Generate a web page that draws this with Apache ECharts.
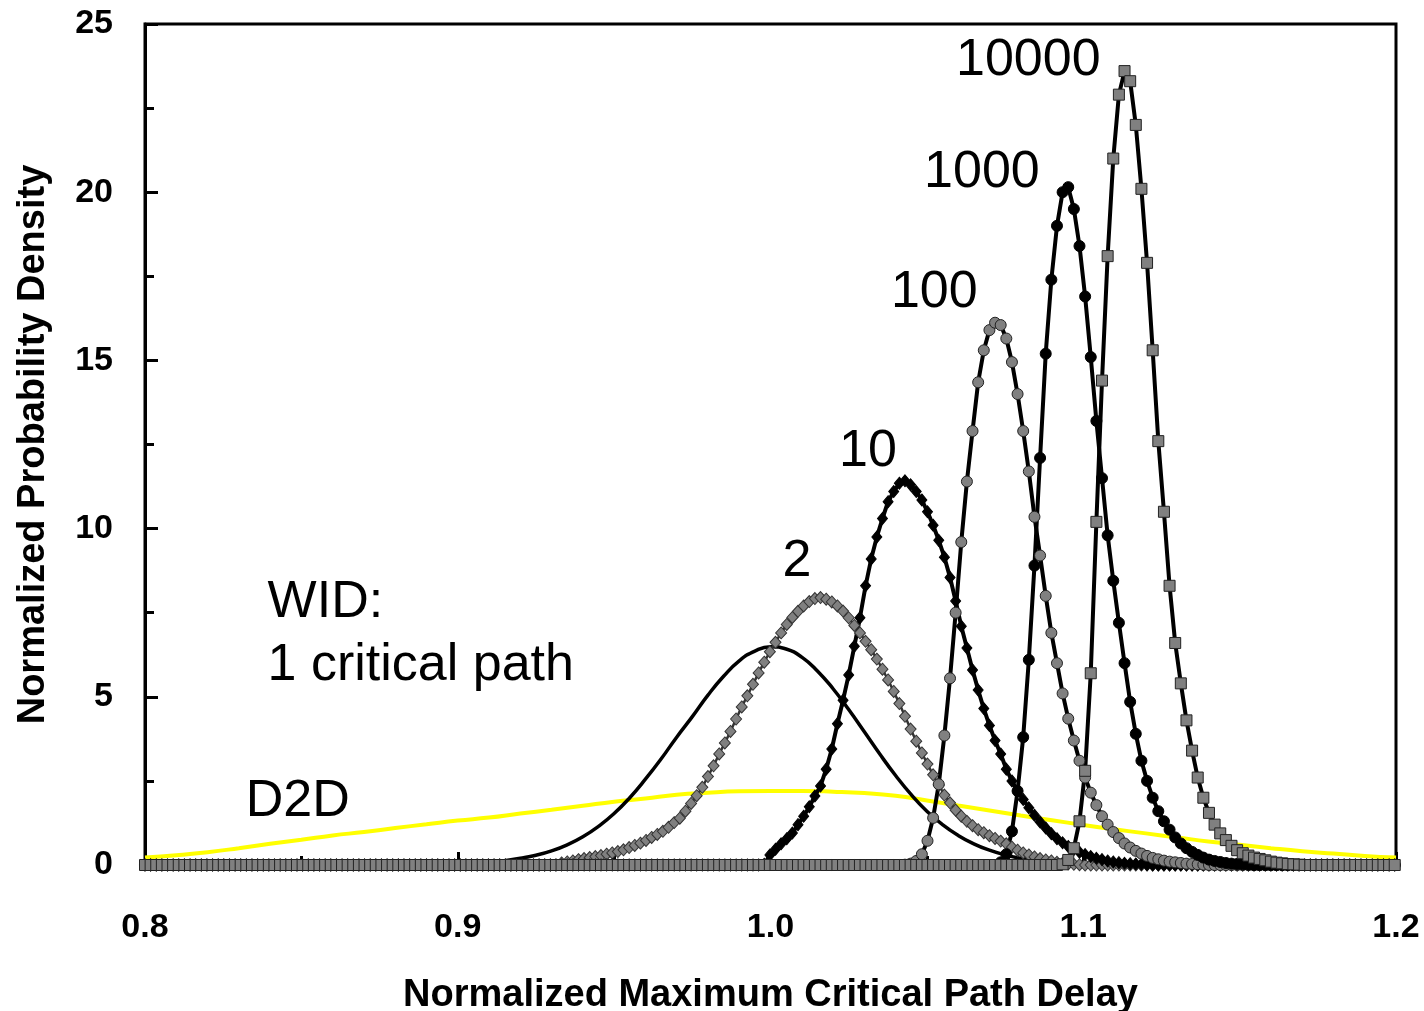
<!DOCTYPE html>
<html>
<head>
<meta charset="utf-8">
<title>Normalized Maximum Critical Path Delay</title>
<script src="https://cdn.jsdelivr.net/npm/echarts@6/dist/echarts.min.js"></script>
<style>
  html, body { margin: 0; padding: 0; background: #ffffff; }
  #chart { width: 1424px; height: 1011px; }
</style>
</head>
<body>
<div id="chart"></div>
<script>
// Tick values of both axes
const xTicks = [0.8, 0.9, 1.0, 1.1, 1.2];
const yTicks = [0, 5, 10, 15, 20, 25];

// Shared sampling grid of the marker curves: x = GRID_START + i * GRID_STEP, i = 0..222
const GRID_START = 0.8;
const GRID_STEP = 0.0018;

// Probability density of the maximum over N critical paths (one row = 10 samples)
const pdf2 = [
  0,0,0,0,0,0,0,0,0,0,
  0,0,0,0,0,0,0,0,0,0,
  0,0,0,0,0,0,0,0,0,0,
  0,0,0,0,0,0,0,0,0,0,
  0,0,0,0,0,0,0,0,0,0,
  0,0,0,0,0,0,0,0,0,0,
  0,0,0,0,0,0,0,0,0,0,
  0,0,0,0,0.06,0.09,0.12,0.16,0.19,0.22,
  0.25,0.28,0.32,0.36,0.40,0.45,0.52,0.58,0.65,0.73,
  0.82,0.91,1.00,1.12,1.26,1.39,1.60,1.83,2.06,2.31,
  2.63,2.95,3.30,3.63,3.97,4.34,4.70,5.03,5.37,5.71,
  6.03,6.34,6.62,6.90,7.15,7.36,7.54,7.70,7.83,7.92,
  7.95,7.90,7.82,7.70,7.55,7.35,7.12,6.90,6.65,6.40,
  6.12,5.82,5.50,5.16,4.80,4.42,4.04,3.68,3.33,3.00,
  2.68,2.38,2.08,1.85,1.63,1.45,1.30,1.17,1.05,0.96,
  0.87,0.79,0.71,0.63,0.53,0.44,0.36,0.30,0.24,0.19,
  0.15,0.12,0.08,0.05,0.03,0.02,0.01,0,0,0,
  0,0,0,0,0,0,0,0,0,0,
  0,0,0,0,0,0,0,0,0,0,
  0,0,0,0,0,0,0,0,0,0,
  0,0,0,0,0,0,0,0,0,0,
  0,0,0,0,0,0,0,0,0,0,
  0,0,0
];

const pdf10 = [
  0,0,0,0,0,0,0,0,0,0,
  0,0,0,0,0,0,0,0,0,0,
  0,0,0,0,0,0,0,0,0,0,
  0,0,0,0,0,0,0,0,0,0,
  0,0,0,0,0,0,0,0,0,0,
  0,0,0,0,0,0,0,0,0,0,
  0,0,0,0,0,0,0,0,0,0,
  0,0,0,0,0,0,0,0,0,0,
  0,0,0,0,0,0,0,0,0,0,
  0,0,0,0,0,0,0,0,0,0,
  0,0,0,0,0,0,0,0,0,0,
  0.02,0.30,0.47,0.63,0.78,0.95,1.20,1.45,1.73,2.05,
  2.35,2.85,3.45,4.20,4.90,5.65,6.50,7.35,8.30,9.10,
  9.75,10.30,10.80,11.10,11.35,11.42,11.30,11.10,10.85,10.50,
  10.10,9.65,9.15,8.55,7.85,7.10,6.45,5.80,5.20,4.65,
  4.15,3.70,3.30,2.85,2.50,2.20,1.95,1.70,1.48,1.28,
  1.10,0.93,0.78,0.66,0.55,0.46,0.38,0.31,0.25,0.20,
  0.16,0.12,0.09,0.07,0.05,0.04,0.03,0.02,0.01,0,
  0,0,0,0,0,0,0,0,0,0,
  0,0,0,0,0,0,0,0,0,0,
  0,0,0,0,0,0,0,0,0,0,
  0,0,0,0,0,0,0,0,0,0,
  0,0,0
];

const pdf100 = [
  0,0,0,0,0,0,0,0,0,0,
  0,0,0,0,0,0,0,0,0,0,
  0,0,0,0,0,0,0,0,0,0,
  0,0,0,0,0,0,0,0,0,0,
  0,0,0,0,0,0,0,0,0,0,
  0,0,0,0,0,0,0,0,0,0,
  0,0,0,0,0,0,0,0,0,0,
  0,0,0,0,0,0,0,0,0,0,
  0,0,0,0,0,0,0,0,0,0,
  0,0,0,0,0,0,0,0,0,0,
  0,0,0,0,0,0,0,0,0,0,
  0,0,0,0,0,0,0,0,0,0,
  0,0,0,0,0,0,0,0,0,0,
  0,0,0,0,0,0.01,0.04,0.12,0.32,0.72,
  1.40,2.40,3.85,5.55,7.50,9.60,11.40,12.90,14.35,15.30,
  15.90,16.12,16.05,15.65,14.95,14.00,12.90,11.70,10.35,9.20,
  8.00,6.90,6.00,5.10,4.35,3.70,3.10,2.60,2.15,1.78,
  1.45,1.20,0.98,0.80,0.64,0.52,0.42,0.34,0.27,0.21,
  0.17,0.13,0.10,0.08,0.06,0.04,0.03,0.02,0.01,0,
  0,0,0,0,0,0,0,0,0,0,
  0,0,0,0,0,0,0,0,0,0,
  0,0,0,0,0,0,0,0,0,0,
  0,0,0
];

const pdf1000 = [
  0,0,0,0,0,0,0,0,0,0,
  0,0,0,0,0,0,0,0,0,0,
  0,0,0,0,0,0,0,0,0,0,
  0,0,0,0,0,0,0,0,0,0,
  0,0,0,0,0,0,0,0,0,0,
  0,0,0,0,0,0,0,0,0,0,
  0,0,0,0,0,0,0,0,0,0,
  0,0,0,0,0,0,0,0,0,0,
  0,0,0,0,0,0,0,0,0,0,
  0,0,0,0,0,0,0,0,0,0,
  0,0,0,0,0,0,0,0,0,0,
  0,0,0,0,0,0,0,0,0,0,
  0,0,0,0,0,0,0,0,0,0,
  0,0,0,0,0,0,0,0,0,0,
  0,0,0,0,0,0,0,0,0,0,
  0,0,0.08,0.32,1.00,2.20,3.80,6.10,8.90,12.10,
  15.20,17.40,19.00,20.00,20.15,19.50,18.40,16.90,15.10,13.20,
  11.50,9.80,8.45,7.20,6.00,4.85,3.90,3.10,2.50,2.00,
  1.60,1.30,1.05,0.82,0.64,0.50,0.39,0.30,0.22,0.16,
  0.12,0.09,0.06,0.04,0.03,0.02,0.01,0,0,0,
  0,0,0,0,0,0,0,0,0,0,
  0,0,0,0,0,0,0,0,0,0,
  0,0,0
];

const pdf10000 = [
  0,0,0,0,0,0,0,0,0,0,
  0,0,0,0,0,0,0,0,0,0,
  0,0,0,0,0,0,0,0,0,0,
  0,0,0,0,0,0,0,0,0,0,
  0,0,0,0,0,0,0,0,0,0,
  0,0,0,0,0,0,0,0,0,0,
  0,0,0,0,0,0,0,0,0,0,
  0,0,0,0,0,0,0,0,0,0,
  0,0,0,0,0,0,0,0,0,0,
  0,0,0,0,0,0,0,0,0,0,
  0,0,0,0,0,0,0,0,0,0,
  0,0,0,0,0,0,0,0,0,0,
  0,0,0,0,0,0,0,0,0,0,
  0,0,0,0,0,0,0,0,0,0,
  0,0,0,0,0,0,0,0,0,0,
  0,0,0,0,0,0,0,0,0,0,
  0,0,0,0.02,0.15,0.50,1.30,2.80,5.70,10.20,
  14.40,18.10,21.00,22.90,23.60,23.30,22.00,20.10,17.90,15.30,
  12.60,10.50,8.30,6.60,5.40,4.30,3.40,2.60,2.00,1.55,
  1.20,0.94,0.74,0.57,0.44,0.35,0.28,0.22,0.18,0.14,
  0.10,0.07,0.05,0.03,0.02,0.01,0,0,0,0,
  0,0,0,0,0,0,0,0,0,0,
  0,0,0
];

// Single critical path with within-die variation: x = WID_START + i * WID_STEP
const WID_START = 0.915;
const WID_STEP = 0.005;
const pdfWid = [
  0.13,0.20,0.29,0.42,0.60,0.84,1.15,1.53,2.00,2.55,
  3.15,3.80,4.41,5.05,5.61,6.07,6.36,6.49,6.42,6.18,
  5.77,5.24,4.62,3.96,3.29,2.66,2.09,1.60,1.20,0.88,
  0.63,0.44,0.30,0.20,0.12,0.05,0
];

// Die-to-die variation: x = D2D_START + i * D2D_STEP
const D2D_START = 0.8;
const D2D_STEP = 0.01;
const pdfD2d = [
  0.22,0.29,0.38,0.50,0.63,0.75,0.88,0.98,1.10,1.21,
  1.32,1.41,1.53,1.64,1.76,1.88,1.98,2.09,2.15,2.19,
  2.20,2.20,2.18,2.14,2.06,1.92,1.77,1.62,1.47,1.33,
  1.19,1.06,0.94,0.82,0.70,0.60,0.50,0.41,0.34,0.27,
  0.22
];

// Curve labels, anchored at their left edge / vertical middle in data units
const curveLabels = [
  { text: '10000', x: 1.0593, y: 23.90 },
  { text: '1000', x: 1.0491, y: 20.57 },
  { text: '100', x: 1.0385, y: 17.00 },
  { text: '10', x: 1.0219, y: 12.30 },
  { text: '2', x: 1.0038, y: 9.03 },
  { text: 'WID:', x: 0.8392, y: 7.80 },
  { text: '1 critical path', x: 0.8392, y: 5.93 },
  { text: 'D2D', x: 0.8322, y: 1.88 }
];

function toPoints(start, step, values) {
  return values.map((v, i) => [+(start + i * step).toFixed(5), v]);
}

const FONT = '"Liberation Sans", Arial, Helvetica, sans-serif';

const chart = echarts.init(document.getElementById('chart'), null, { renderer: 'canvas' });

function markerSeries(name, values, symbol, size, fill, border, lineColor, lineWidth) {
  return {
    type: 'line',
    name: name,
    data: toPoints(GRID_START, GRID_STEP, values),
    symbol: symbol,
    symbolSize: size,
    showSymbol: true,
    silent: true,
    clip: false,
    itemStyle: { color: fill, borderColor: border, borderWidth: 1 },
    lineStyle: { color: lineColor, width: lineWidth },
    emphasis: { disabled: true }
  };
}

const axisBlack = { color: '#000', width: 3 };

const option = {
  animation: false,
  backgroundColor: '#ffffff',
  grid: {
    left: 145, right: 28, top: 24, bottom: 146,
    containLabel: false,
    outerBoundsMode: 'none',
    show: true, borderColor: '#000', borderWidth: 3, backgroundColor: 'transparent'
  },
  xAxis: {
    type: 'value',
    min: xTicks[0],
    max: xTicks[xTicks.length - 1],
    interval: xTicks[1] - xTicks[0],
    name: 'Normalized Maximum Critical Path Delay',
    nameLocation: 'middle',
    nameGap: 112,
    nameTextStyle: { fontFamily: FONT, fontWeight: 'bold', fontSize: 38, color: '#000' },
    axisLine: { show: true, onZero: false, lineStyle: axisBlack },
    axisTick: { show: true, inside: true, length: 13, lineStyle: axisBlack },
    minorTick: { show: true, splitNumber: 2, length: 9, lineStyle: axisBlack },
    axisLabel: {
      margin: 46, fontFamily: FONT, fontWeight: 'bold', fontSize: 34, color: '#000',
      formatter: v => v.toFixed(1)
    },
    splitLine: { show: false }
  },
  yAxis: {
    type: 'value',
    min: yTicks[0],
    max: yTicks[yTicks.length - 1],
    interval: yTicks[1] - yTicks[0],
    name: 'Normalized Probability Density',
    nameLocation: 'middle',
    nameGap: 92,
    nameTextStyle: { fontFamily: FONT, fontWeight: 'bold', fontSize: 38, color: '#000' },
    axisLine: { show: true, onZero: false, lineStyle: axisBlack },
    axisTick: { show: true, inside: true, length: 13, lineStyle: axisBlack },
    minorTick: { show: true, splitNumber: 2, length: 9, lineStyle: axisBlack },
    axisLabel: { margin: 32, fontFamily: FONT, fontWeight: 'bold', fontSize: 34, color: '#000' },
    splitLine: { show: false }
  },
  series: [
    {
      type: 'line',
      name: 'D2D',
      data: toPoints(D2D_START, D2D_STEP, pdfD2d),
      smooth: true,
      showSymbol: false,
      silent: true,
      lineStyle: { color: '#ffff00', width: 4 },
      emphasis: { disabled: true }
    },
    {
      type: 'line',
      name: 'WID',
      data: toPoints(WID_START, WID_STEP, pdfWid),
      smooth: true,
      showSymbol: false,
      silent: true,
      lineStyle: { color: '#000', width: 3.5 },
      emphasis: { disabled: true }
    },
    markerSeries('2', pdf2, 'diamond', [11, 12], '#808080', '#333', '#333', 2.5),
    markerSeries('10', pdf10, 'diamond', [10, 12], '#000', '#000', '#000', 4),
    markerSeries('100', pdf100, 'circle', 11, '#808080', '#222', '#000', 4),
    markerSeries('1000', pdf1000, 'circle', 11, '#000', '#000', '#000', 4),
    markerSeries('10000', pdf10000, 'rect', 11, '#808080', '#222', '#000', 4)
  ]
};

chart.setOption(option);

// Curve labels placed through the chart's own coordinate conversion
chart.setOption({
  graphic: curveLabels.map(l => {
    const p = chart.convertToPixel({ gridIndex: 0 }, [l.x, l.y]);
    return {
      type: 'text',
      x: p[0],
      y: p[1],
      silent: true,
      z: 100,
      style: {
        text: l.text,
        fill: '#000',
        font: '52px ' + FONT,
        textAlign: 'left',
        textVerticalAlign: 'middle'
      }
    };
  })
});
</script>
</body>
</html>
